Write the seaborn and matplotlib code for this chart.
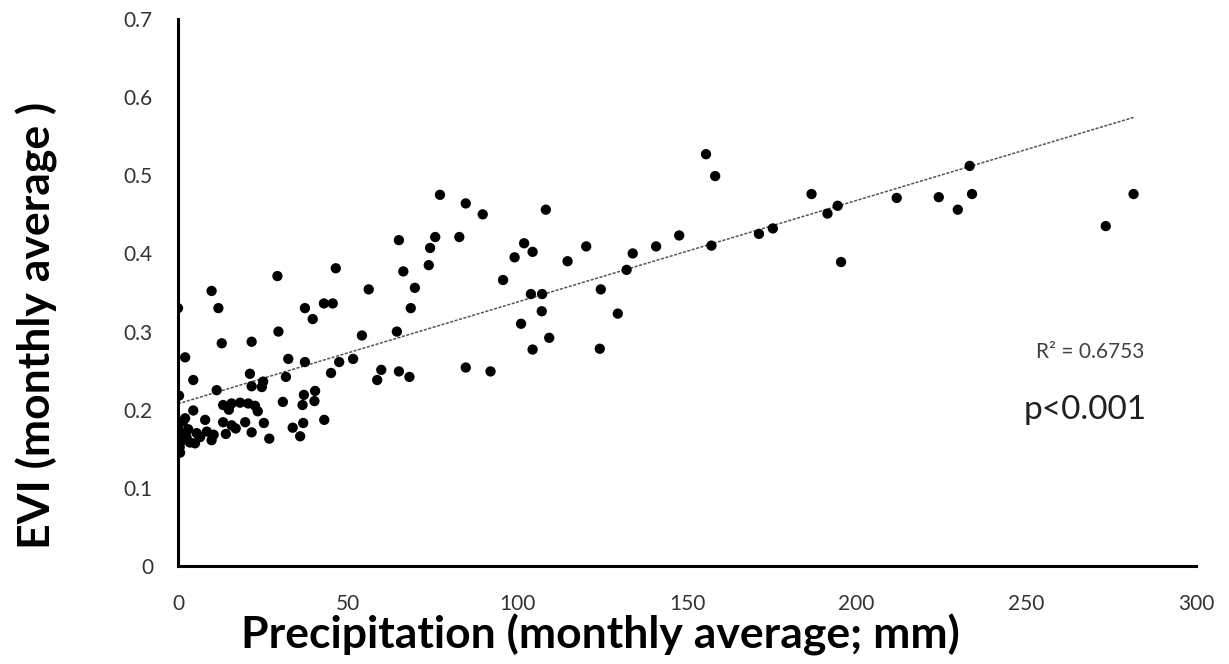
import numpy as np
import pandas as pd
import matplotlib
matplotlib.use("Agg")
import matplotlib.pyplot as plt
import seaborn as sns

precip = [0.0, 0.3, 0.0, 0.6, 0.5, 1.0, 0.8, 1.5, 2.1, 2.1, 2.5, 3.0, 3.5, 4.5, 4.5,
          5.0, 5.5, 6.5, 8.0, 8.5, 9.9, 9.9, 10.5, 11.4, 11.9, 12.9, 13.3, 13.3, 14.1,
          15.0, 15.8, 15.8, 17.0, 18.3, 19.8, 20.7, 21.2, 21.7, 21.7, 21.7, 22.7, 23.5,
          24.7, 25.1, 25.3, 26.9, 29.3, 29.6, 30.9, 31.8, 32.5, 33.8, 36.0, 36.7, 36.9,
          37.1, 37.4, 37.4, 39.7, 40.2, 40.4, 43.0, 43.1, 45.1, 45.6, 46.5, 47.5, 51.6,
          54.2, 56.2, 58.7, 59.9, 64.5, 65.1, 65.1, 66.4, 68.2, 68.6, 69.8, 73.9, 74.3,
          75.8, 77.2, 82.9, 84.8, 84.8, 89.8, 92.1, 95.8, 99.2, 101.1, 102.0, 104.0,
          104.5, 104.5, 107.2, 107.3, 108.4, 109.4, 114.8, 120.3, 124.3, 124.6, 129.6,
          132.2, 134.0, 140.9, 147.7, 155.6, 157.2, 158.3, 171.2, 175.3, 186.7, 191.4,
          194.4, 195.4, 211.8, 224.2, 229.8, 233.3, 234.0, 273.4, 281.6]
evi = [0.330, 0.218, 0.178, 0.145, 0.152, 0.160, 0.170, 0.185, 0.189, 0.267, 0.165,
       0.175, 0.158, 0.199, 0.238, 0.157, 0.170, 0.165, 0.187, 0.172, 0.161, 0.352,
       0.168, 0.225, 0.330, 0.285, 0.206, 0.184, 0.169, 0.200, 0.208, 0.180, 0.176,
       0.209, 0.184, 0.208, 0.246, 0.287, 0.230, 0.171, 0.205, 0.198, 0.229, 0.236,
       0.183, 0.163, 0.371, 0.300, 0.210, 0.242, 0.265, 0.177, 0.166, 0.206, 0.183,
       0.219, 0.261, 0.330, 0.316, 0.211, 0.224, 0.336, 0.187, 0.247, 0.336, 0.381,
       0.261, 0.265, 0.295, 0.354, 0.238, 0.251, 0.300, 0.417, 0.249, 0.377, 0.242,
       0.330, 0.356, 0.385, 0.407, 0.421, 0.475, 0.421, 0.464, 0.254, 0.450, 0.249,
       0.366, 0.395, 0.310, 0.413, 0.348, 0.402, 0.277, 0.326, 0.348, 0.456, 0.292,
       0.390, 0.409, 0.278, 0.354, 0.323, 0.379, 0.400, 0.409, 0.423, 0.527, 0.410,
       0.499, 0.425, 0.432, 0.476, 0.451, 0.461, 0.389, 0.471, 0.472, 0.456, 0.512,
       0.476, 0.435, 0.476]

x_ticks = [0, 50, 100, 150, 200, 250, 300]
y_ticks = [0, 0.1, 0.2, 0.3, 0.4, 0.5, 0.6, 0.7]
y_tick_labels = ["0", "0.1", "0.2", "0.3", "0.4", "0.5", "0.6", "0.7"]
r2_text = "R\u00b2 = 0.6753"
p_text = "p<0.001"
x_label = "Precipitation (monthly average; mm)"
y_label = "EVI (monthly average )"

df = pd.DataFrame({"precip": precip, "evi": evi})

sns.set_theme(style="white")
plt.rcParams["font.family"] = ["Lato", "DejaVu Sans"]

fig = plt.figure(figsize=(12.29, 6.64), dpi=100)
ax = fig.add_axes([178 / 1229, 1 - 566 / 664, (1196 - 178) / 1229, (566 - 19) / 664])

sns.regplot(data=df, x="precip", y="evi", ax=ax, scatter=False, ci=None,
            line_kws=dict(color="#555555", lw=1.1, linestyle=(0, (2, 1))))
sns.scatterplot(data=df, x="precip", y="evi", ax=ax, color="black", s=55,
                edgecolor="none", zorder=3)

ax.set_xlim(0, 300)
ax.set_ylim(0, 0.7)
ax.set_xticks(x_ticks)
ax.set_xticklabels([str(t) for t in x_ticks])
ax.set_yticks(y_ticks)
ax.set_yticklabels(y_tick_labels)

for side in ["top", "right"]:
    ax.spines[side].set_visible(False)
for side in ["left", "bottom"]:
    ax.spines[side].set_color("black")
    ax.spines[side].set_linewidth(2.2)

ax.tick_params(axis="both", direction="out", length=6, width=2, color="black",
               labelsize=15, labelcolor="#333333")
ax.tick_params(axis="x", pad=14)
ax.tick_params(axis="y", pad=12)

ax.set_xlabel(x_label, fontsize=32, fontweight="bold", color="black")
ax.set_ylabel(y_label, fontsize=32, fontweight="bold", color="black")
ax.xaxis.set_label_coords((600 - 178) / 1018, (566 - 614) / 547)
ax.yaxis.set_label_coords((58 - 178) / 1018, (566 - 325) / 547)

ax.text(268.8, 0.274, r2_text, fontsize=15, color="#404040", ha="center", va="center")
ax.text(267.3, 0.200, p_text, fontsize=24, color="#202020", ha="center", va="center")

fig.savefig("out.png", dpi=100)
